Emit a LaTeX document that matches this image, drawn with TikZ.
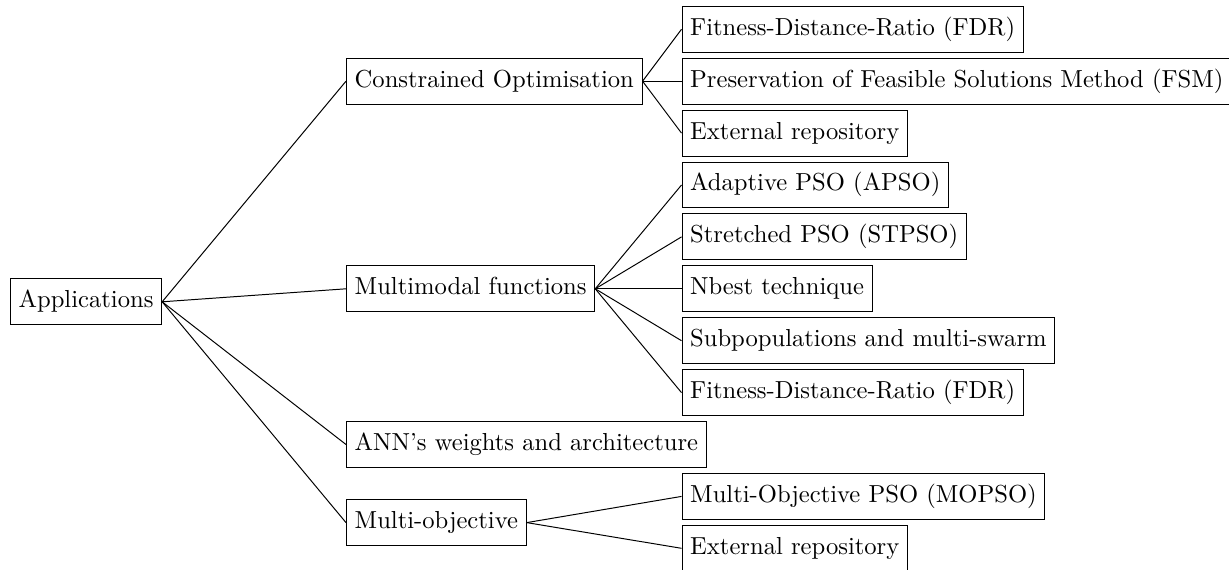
\documentclass[tikz,border=0pt]{standalone}
\begin{document}
\begin{tikzpicture}[x=0.4065pt, y=-0.4065pt,
  box/.style={draw, rectangle, anchor=west, inner sep=3.33pt,
              text height=8.4pt, text depth=3.6pt},
  link/.style={line width=0.4pt}]
\clip (0,0) rectangle (1229,569);
% root
\node[box] (app) at (10,301.8) {Applications};
% first level
\node[box] (con) at (346,81.2)  {Constrained Optimisation};
\node[box] (mmf) at (346,288.8) {Multimodal functions};
\node[box] (ann) at (346,444.5) {ANN's weights and architecture};
\node[box] (mob) at (346,522.6) {Multi-objective};
% second level
\node[box] (fdra) at (681.5,29.3)  {Fitness-Distance-Ratio (FDR)};
\node[box] (fsm)  at (681.5,81.2)  {Preservation of Feasible Solutions Method (FSM)};
\node[box] (exta) at (681.5,133.1) {External repository};
\node[box] (apso) at (681.5,185.0) {Adaptive PSO (APSO)};
\node[box] (stp)  at (681.5,236.9) {Stretched PSO (STPSO)};
\node[box] (nb)   at (681.5,288.8) {Nbest technique};
\node[box] (sub)  at (681.5,340.7) {Subpopulations and multi-swarm};
\node[box] (fdrb) at (681.5,392.6) {Fitness-Distance-Ratio (FDR)};
\node[box] (mop)  at (681.5,496.4) {Multi-Objective PSO (MOPSO)};
\node[box] (extb) at (681.5,548.3) {External repository};
% connectors
\foreach \c in {con,mmf,ann,mob}
  \draw[link] (app.east) -- (\c.west);
\foreach \c in {fdra,fsm,exta}
  \draw[link] (con.east) -- (\c.west);
\foreach \c in {apso,stp,nb,sub,fdrb}
  \draw[link] (mmf.east) -- (\c.west);
\foreach \c in {mop,extb}
  \draw[link] (mob.east) -- (\c.west);
\end{tikzpicture}
\end{document}
